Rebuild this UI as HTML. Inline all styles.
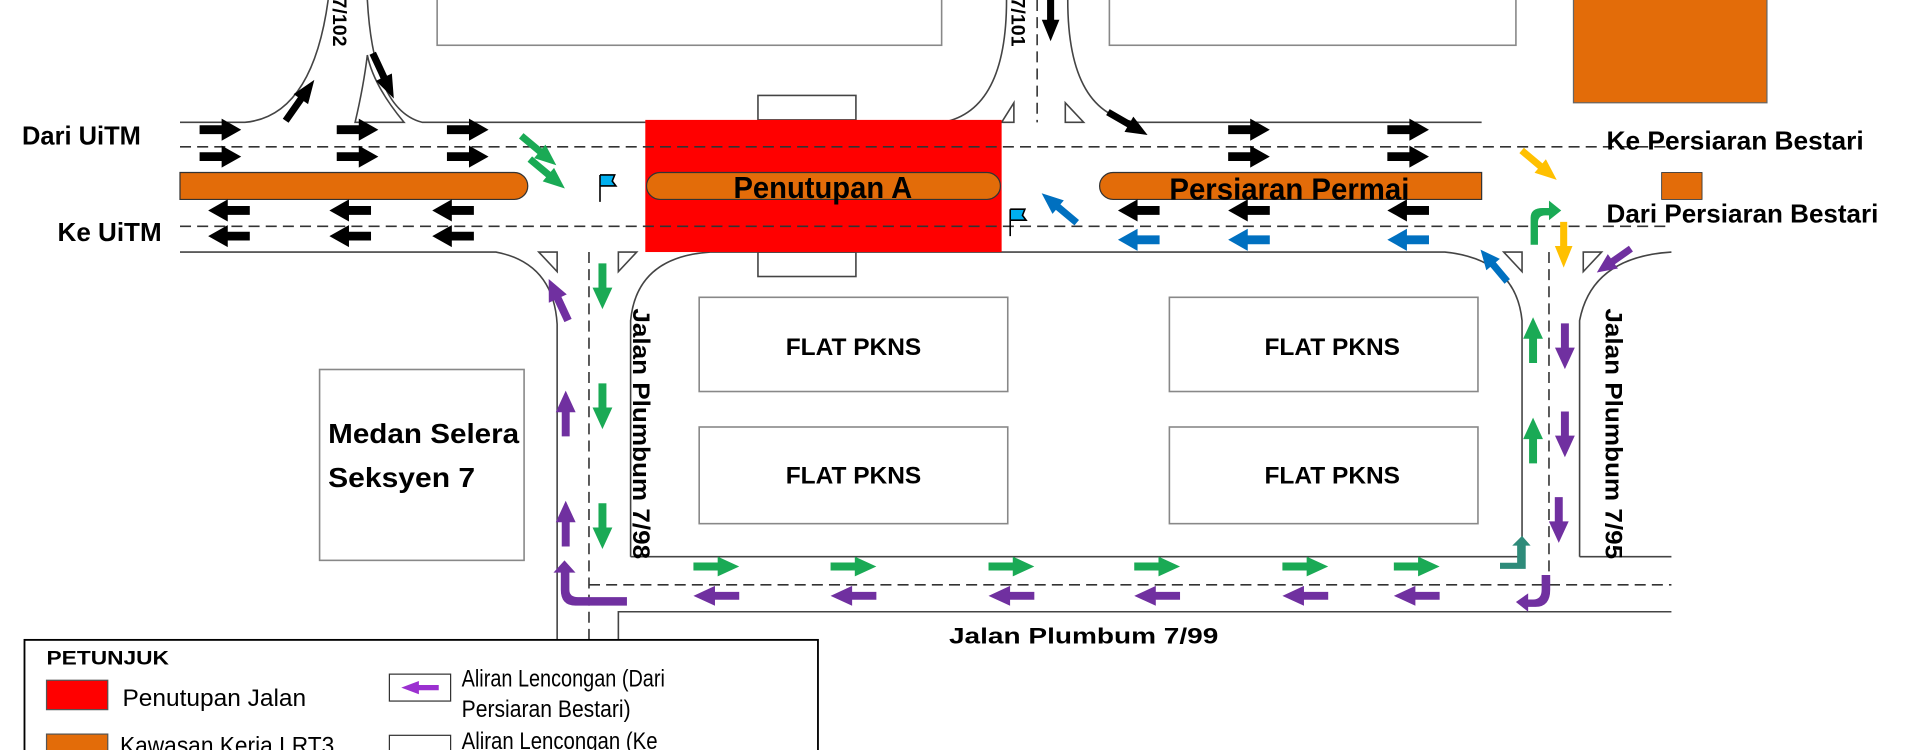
<!DOCTYPE html>
<html><head><meta charset="utf-8"><style>
html,body{margin:0;padding:0;background:#fff;overflow:hidden}
svg{display:block}
text{font-family:"Liberation Sans",Arial,sans-serif;font-weight:bold;fill:#000}
.n{font-weight:normal}
</style></head><body>
<svg width="1920" height="750" viewBox="0 0 1568 613" preserveAspectRatio="none" xmlns="http://www.w3.org/2000/svg">
<defs>
<path id="ar" d="M-17,-3.6 H1 V-9 L17,0 L1,9 V3.6 H-17Z"/>
<path id="fl" d="M0,0 V22 M0,0 H12 L10,5 L13,9 H0"/>
</defs>
<g fill="none" stroke="#444" stroke-width="1.3">
<rect x="357" y="-5" width="412" height="42" stroke="#888"/>
<rect x="906" y="-5" width="332" height="42" stroke="#888"/>
<rect x="571" y="243" width="252" height="77" stroke="#888"/>
<rect x="955" y="243" width="252" height="77" stroke="#888"/>
<rect x="571" y="349" width="252" height="79" stroke="#888"/>
<rect x="955" y="349" width="252" height="79" stroke="#888"/>
<rect x="261" y="302" width="167" height="156" stroke="#888"/>
<rect x="619" y="78" width="80" height="20"/>
<rect x="619" y="206" width="80" height="20"/>
<path d="M147,100 H200 Q255,95 268,0"/>
<path d="M300,0 Q305,90 345,100 H770 Q822,90 822,0"/>
<path d="M872,0 Q872,95 930,100 H1210"/>
<path d="M147,206 H405 Q452,215 455,265 V530"/>
<path d="M505,525 V500 H1365"/>
<path d="M515,455 V262 Q520,210 580,206 H1180 Q1238,212 1243,262 V455 H515"/>
<path d="M1290,455 V262 Q1300,210 1365,206"/>
<path d="M1290,455 H1365"/>
<path d="M290,100 Q297,70 300,45 Q305,70 330,100Z"/>
<path d="M818,100 L828,84 V100Z"/>
<path d="M870,84 L885,100 H870Z"/>
<path d="M440,206 H455 V222Z"/>
<path d="M505,206 H520 L505,222Z"/>
<path d="M1228,206 H1243 V222Z"/>
<path d="M1293,206 H1308 L1293,222Z"/>
</g>
<path d="M147,141 H420 A11,11 0 0 1 420,163 H147Z" fill="#e36c09" stroke="#333"/>
<rect x="527" y="98" width="291" height="108" fill="#ff0000"/>
<rect x="528" y="141" width="289" height="22" rx="11" fill="#e36c09" stroke="#333"/>
<path d="M1210,141 H909 A11,11 0 0 0 909,163 H1210Z" fill="#e36c09" stroke="#333"/>
<rect x="1357" y="141" width="33" height="22" fill="#e36c09" stroke="#333" stroke-width="0.7"/>
<rect x="1285" y="-2" width="158" height="86" fill="#e36c09" stroke="#666"/>
<g stroke="#333" stroke-width="1.3" stroke-dasharray="9,5" fill="none">
<path d="M147,120 H1365"/>
<path d="M147,185 H1365"/>
<path d="M847,0 V100"/>
<path d="M481,206 V530"/>
<path d="M481,478 H1365"/>
<path d="M1265,206 V478"/>
</g>
<g stroke="#000" stroke-width="1.3" fill="#00b0f0"><use href="#fl" x="490" y="143"/><use href="#fl" x="825" y="171"/></g>
<g fill="#000">
<use href="#ar" transform="translate(180,106)"/><use href="#ar" transform="translate(180,128)"/>
<use href="#ar" transform="translate(292,106)"/><use href="#ar" transform="translate(292,128)"/>
<use href="#ar" transform="translate(382,106)"/><use href="#ar" transform="translate(382,128)"/>
<use href="#ar" transform="translate(1020,106)"/><use href="#ar" transform="translate(1020,128)"/>
<use href="#ar" transform="translate(1150,106)"/><use href="#ar" transform="translate(1150,128)"/>
<use href="#ar" transform="translate(187,172) rotate(180)"/><use href="#ar" transform="translate(187,193) rotate(180)"/>
<use href="#ar" transform="translate(286,172) rotate(180)"/><use href="#ar" transform="translate(286,193) rotate(180)"/>
<use href="#ar" transform="translate(370,172) rotate(180)"/><use href="#ar" transform="translate(370,193) rotate(180)"/>
<use href="#ar" transform="translate(930,172) rotate(180)"/><use href="#ar" transform="translate(1020,172) rotate(180)"/><use href="#ar" transform="translate(1150,172) rotate(180)"/>
<use href="#ar" transform="translate(245,82) rotate(-55) scale(1.2,0.8)"/>
<use href="#ar" transform="translate(313,62) rotate(65) scale(1.2,0.8)"/>
<use href="#ar" transform="translate(921,101) rotate(30) scale(1.1,0.8)"/>
<use href="#ar" transform="translate(858,15) rotate(90) scale(1.1,0.8)"/>
</g>
<g fill="#0070c0">
<use href="#ar" transform="translate(930,196) rotate(180)"/><use href="#ar" transform="translate(1020,196) rotate(180)"/><use href="#ar" transform="translate(1150,196) rotate(180)"/>
<use href="#ar" transform="translate(865,170) rotate(-140) scale(1.1,0.8)"/>
<use href="#ar" transform="translate(1220,217) rotate(-130) scale(1,0.8)"/>
</g>
<g fill="#ffc000">
<use href="#ar" transform="translate(1257,135) rotate(40) scale(1.1,0.8)"/>
<use href="#ar" transform="translate(1277,200) rotate(90) scale(1.1,0.8)"/>
</g>
<g fill="#1aaa55">
<use href="#ar" transform="translate(440,123) rotate(40) scale(1.1,0.8)"/>
<use href="#ar" transform="translate(447,142) rotate(40) scale(1.1,0.8)"/>
<use href="#ar" transform="translate(492,234) rotate(90) scale(1.1,0.9)"/>
<use href="#ar" transform="translate(492,332) rotate(90) scale(1.1,0.9)"/>
<use href="#ar" transform="translate(492,430) rotate(90) scale(1.1,0.9)"/>
<use href="#ar" transform="translate(585,463) scale(1.1,0.9)"/><use href="#ar" transform="translate(697,463) scale(1.1,0.9)"/>
<use href="#ar" transform="translate(826,463) scale(1.1,0.9)"/><use href="#ar" transform="translate(945,463) scale(1.1,0.9)"/>
<use href="#ar" transform="translate(1066,463) scale(1.1,0.9)"/><use href="#ar" transform="translate(1157,463) scale(1.1,0.9)"/>
<use href="#ar" transform="translate(1252,278) rotate(-90) scale(1.1,0.9)"/>
<use href="#ar" transform="translate(1252,360) rotate(-90) scale(1.1,0.9)"/>
<path d="M1250,200 V178 Q1250,170 1260,170 H1265 V164 L1275,172 L1265,180 V176 H1262 Q1256,176 1256,182 V200Z"/>
</g>
<path d="M1225,465 V460 H1239 V446 H1235 L1243,438 L1250,446 H1246 V465Z" fill="#2e8b7a"/>
<g fill="#7030a0">
<use href="#ar" transform="translate(585,487) rotate(180) scale(1.1,0.9)"/><use href="#ar" transform="translate(697,487) rotate(180) scale(1.1,0.9)"/>
<use href="#ar" transform="translate(826,487) rotate(180) scale(1.1,0.9)"/><use href="#ar" transform="translate(945,487) rotate(180) scale(1.1,0.9)"/>
<use href="#ar" transform="translate(1066,487) rotate(180) scale(1.1,0.9)"/><use href="#ar" transform="translate(1157,487) rotate(180) scale(1.1,0.9)"/>
<use href="#ar" transform="translate(462,338) rotate(-90) scale(1.1,0.9)"/>
<use href="#ar" transform="translate(462,428) rotate(-90) scale(1.1,0.9)"/>
<use href="#ar" transform="translate(456,245) rotate(-115) scale(1.1,0.9)"/>
<use href="#ar" transform="translate(1278,283) rotate(90) scale(1.1,0.9)"/>
<use href="#ar" transform="translate(1278,355) rotate(90) scale(1.1,0.9)"/>
<use href="#ar" transform="translate(1273,425) rotate(90) scale(1.1,0.9)"/>
<use href="#ar" transform="translate(1318,213) rotate(145) scale(1,0.8)"/>
<path d="M458,468 V482 Q458,495 470,495 H512 V488 H472 Q465,488 465,482 V468 H470 L461,458 L452,468Z"/>
<path d="M1259,470 V482 Q1259,490 1252,490 H1248 V485 L1238,492 L1248,500 V496 H1254 Q1266,496 1266,482 V470Z"/>
</g>
<g>
<text x="18" y="118" font-size="21" textLength="97" lengthAdjust="spacingAndGlyphs">Dari UiTM</text>
<text x="47" y="197" font-size="21" textLength="85" lengthAdjust="spacingAndGlyphs">Ke UiTM</text>
<text x="672" y="162" font-size="25" text-anchor="middle" textLength="146" lengthAdjust="spacingAndGlyphs">Penutupan A</text>
<text x="955" y="163" font-size="25" textLength="196" lengthAdjust="spacingAndGlyphs">Persiaran Permai</text>
<text x="1312" y="122" font-size="21" textLength="210" lengthAdjust="spacingAndGlyphs">Ke Persiaran Bestari</text>
<text x="1312" y="182" font-size="21" textLength="222" lengthAdjust="spacingAndGlyphs">Dari Persiaran Bestari</text>
<text x="697" y="290" font-size="20" text-anchor="middle">FLAT PKNS</text>
<text x="1088" y="290" font-size="20" text-anchor="middle">FLAT PKNS</text>
<text x="697" y="395" font-size="20" text-anchor="middle">FLAT PKNS</text>
<text x="1088" y="395" font-size="20" text-anchor="middle">FLAT PKNS</text>
<text x="268" y="362" font-size="23" textLength="156" lengthAdjust="spacingAndGlyphs">Medan Selera</text>
<text x="268" y="398" font-size="23" textLength="120" lengthAdjust="spacingAndGlyphs">Seksyen 7</text>
<text x="775" y="526" font-size="18" textLength="220" lengthAdjust="spacingAndGlyphs">Jalan Plumbum 7/99</text>
<text transform="translate(517,252) rotate(90)" font-size="20" textLength="205" lengthAdjust="spacingAndGlyphs">Jalan Plumbum 7/98</text>
<text transform="translate(1311,252) rotate(90)" font-size="20" textLength="205" lengthAdjust="spacingAndGlyphs">Jalan Plumbum 7/95</text>
<text transform="translate(272,-2) rotate(90)" font-size="16">7/102</text>
<text transform="translate(826,-2) rotate(90)" font-size="16">7/101</text>
</g>
<rect x="20" y="523" width="648" height="100" fill="#fff" stroke="#000" stroke-width="1.5"/>
<text x="38" y="543" font-size="16" textLength="100" lengthAdjust="spacingAndGlyphs">PETUNJUK</text>
<rect x="38" y="556" width="50" height="24" fill="#ff0000" stroke="#555"/>
<text class="n" x="100" y="577" font-size="20" textLength="150" lengthAdjust="spacingAndGlyphs">Penutupan Jalan</text>
<rect x="38" y="600" width="50" height="24" fill="#e36c09" stroke="#555"/>
<text class="n" x="98" y="616" font-size="20" textLength="175" lengthAdjust="spacingAndGlyphs">Kawasan Kerja LRT3</text>
<rect x="318" y="551" width="50" height="22" fill="#fff" stroke="#333"/>
<use href="#ar" fill="#9b30d0" transform="translate(343,562) rotate(180) scale(0.9,0.6)"/>
<rect x="318" y="601" width="50" height="22" fill="#fff" stroke="#333"/>
<text class="n" x="377" y="561" font-size="20" textLength="166" lengthAdjust="spacingAndGlyphs">Aliran Lencongan (Dari</text>
<text class="n" x="377" y="586" font-size="20" textLength="138" lengthAdjust="spacingAndGlyphs">Persiaran Bestari)</text>
<text class="n" x="377" y="612" font-size="20" textLength="160" lengthAdjust="spacingAndGlyphs">Aliran Lencongan (Ke</text>
</svg>
</body></html>
